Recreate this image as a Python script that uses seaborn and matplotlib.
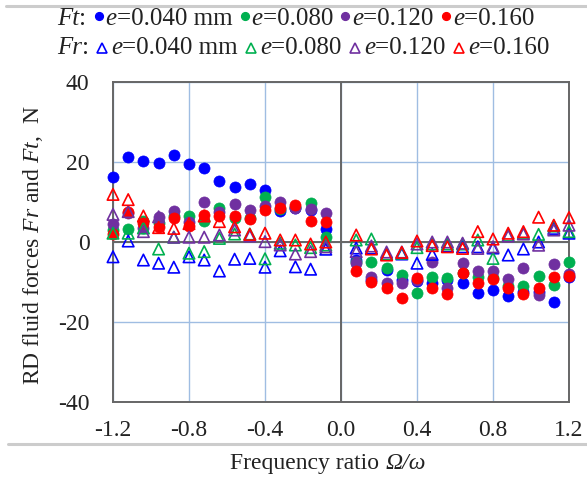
import numpy as np
import pandas as pd
import matplotlib
matplotlib.use("Agg")
import matplotlib.pyplot as plt
import seaborn as sns
from matplotlib.lines import Line2D

# ---------------- data ----------------
ratio = [-1.2, -1.12, -1.04, -0.96, -0.88, -0.8, -0.72, -0.64, -0.56, -0.48, -0.4, -0.32, -0.24, -0.16, -0.08,
         0.08, 0.16, 0.24, 0.32, 0.4, 0.48, 0.56, 0.64, 0.72, 0.8, 0.88, 0.96, 1.04, 1.12, 1.2]

ft_040 = [16.2, 21.2, 20.3, 19.8, 21.8, 19.4, 18.6, 15.25, 13.8, 14.4, 13.0, 7.8, 8.4, 8.0, 3.2,
          -4.4, -9.5, -7.0, -9.5, -9.8, -10.3, -9.5, -10.2, -12.7, -12.0, -13.5, -12.5, -12.5, -15.1, -8.8]
ft_080 = [3.0, 3.2, 5.3, 4.7, 6.5, 6.6, 5.3, 8.4, 6.0, 6.0, 11.3, 8.2, 8.8, 9.8, 1.2,
          -5.0, -5.1, -6.4, -8.25, -12.8, -8.7, -8.9, -7.8, -8.7, -9.0, -11.0, -11.0, -8.4, -10.75, -5.1]
ft_120 = [4.4, 7.3, 3.4, 6.2, 7.8, 5.1, 9.9, 7.4, 9.5, 8.0, 9.0, 9.9, 8.6, 8.2, 7.3,
          -5.3, -8.8, -10.3, -10.3, -9.5, -4.9, -11.4, -5.3, -7.25, -7.2, -9.3, -6.4, -13.25, -5.5, -8.0]
ft_160 = [2.0, 7.6, 4.8, 3.8, 6.1, 4.0, 6.75, 6.5, 6.5, 5.75, 8.0, 8.4, 9.25, 5.25, 5.1,
          -7.2, -10.1, -11.4, -13.9, -9.1, -11.6, -13.1, -7.7, -10.3, -9.3, -11.4, -13.0, -11.4, -8.7, -8.5]

fr_040 = [-3.7, 0.25, -4.5, -5.3, -6.3, -3.7, -4.5, -7.25, -4.3, -4.1, -6.3, -2.2, -6.2, -6.8, -1.8,
          -1.5, -1.5, -3.0, -3.0, -5.3, -3.1, -1.0, -1.2, -1.2, -1.5, -3.25, -1.75, 0.0, 3.4, 2.2]
fr_080 = [2.2, 2.2, 3.5, -1.75, 1.2, -2.8, -2.4, 0.9, 2.0, 2.0, -4.2, -0.3, -0.75, -1.4, -0.75,
          0.5, 0.75, -3.0, -2.8, -1.4, -0.5, -0.5, -0.5, 0.5, -4.1, 1.7, 2.2, 1.9, 4.0, 2.6]
fr_120 = [6.9, 7.6, 2.6, 6.3, 1.2, 1.2, 1.2, 1.75, 3.0, 1.5, 0.1, -0.75, -3.0, -2.4, -1.2,
          -2.4, -1.0, -2.5, -2.5, -0.5, 0.0, 0.0, -0.3, -1.6, -1.2, 1.5, 2.0, -0.8, 3.0, 4.2]
fr_160 = [11.9, 10.6, 6.5, 3.6, 3.4, 4.6, 6.5, 5.1, 3.8, 1.9, 2.2, 0.5, 0.5, -0.5, 0.0,
          1.75, -1.75, -3.25, -2.6, 0.25, -0.9, -1.2, -1.6, 2.6, 0.75, 2.2, 2.6, 6.2, 4.2, 6.1]

ecc_labels = ["0.040 mm", "0.080", "0.120", "0.160"]
colors = ["#0000ff", "#00b050", "#7030a0", "#ff0000"]
xticks = [-1.2, -0.8, -0.4, 0.0, 0.4, 0.8, 1.2]
xticklabels = ["-1.2", "-0.8", "-0.4", "0.0", "0.4", "0.8", "1.2"]
yticks = [-40, -20, 0, 20, 40]

# ---------------- style ----------------
sns.set_style("white")
plt.rcParams["font.family"] = ["Liberation Serif", "DejaVu Serif"]
plt.rcParams["mathtext.fontset"] = "custom"
plt.rcParams["mathtext.rm"] = "Liberation Serif"
plt.rcParams["mathtext.it"] = "Liberation Serif:italic"

W, H = 587, 479
fig = plt.figure(figsize=(W / 100, H / 100), dpi=100)
ax = fig.add_axes([113 / W, 1 - 402 / H, (569 - 113) / W, (402 - 82) / H])

FS = 17
TXT = "#222222"

ft_series = [ft_040, ft_080, ft_120, ft_160]
fr_series = [fr_040, fr_080, fr_120, fr_160]

for vals, c in zip(ft_series, colors):
    sns.scatterplot(x=ratio, y=vals, ax=ax, color=c, marker="o", s=64,
                    edgecolor=c, linewidth=0.5, zorder=3, legend=False, clip_on=False)
for vals, c in zip(fr_series, colors):
    sns.scatterplot(x=ratio, y=vals, ax=ax, marker="^", s=68, facecolor="none",
                    edgecolor=c, linewidth=1.2, zorder=4, legend=False, clip_on=False)

ax.set_xlim(-1.2, 1.2)
ax.set_ylim(-40, 40)
ax.set_xticks(xticks)
ax.set_xticklabels(xticklabels)
ax.set_yticks(yticks)
ax.set_yticklabels([str(v) for v in yticks])
ax.tick_params(axis="both", length=0, labelsize=FS, colors=TXT)
ax.tick_params(axis="x", pad=13)
ax.tick_params(axis="y", pad=17)
ax.grid(True, color="#9fbde2", linewidth=1.0, zorder=0)
ax.axhline(0, color="#666666", linewidth=1.4, zorder=1)
ax.axvline(0, color="#666666", linewidth=1.4, zorder=1)
for sp in ax.spines.values():
    sp.set_color("#666666")
    sp.set_linewidth(1.4)
ax.set_xlabel("")
ax.set_ylabel("")

# y axis title
fig.text(33 / W, 1 - 245 / H, r"RD fluid forces $\mathit{Fr}$ and $\mathit{Ft}$,  N",
         rotation=90, ha="center", va="center", fontsize=FS, color=TXT)

# decorative separator lines
fig.add_artist(Line2D([6 / W, 1.0], [1 - 5.5 / H] * 2, color="#cccccc", linewidth=2.2))
fig.add_artist(Line2D([8 / W, 1.0], [1 - 444 / H] * 2, color="#cccccc", linewidth=2.2))

renderer = fig.canvas.get_renderer()


def text_width(txt, style, fs):
    t = fig.text(0, 0, txt, fontsize=fs, fontstyle=style)
    w = t.get_window_extent(renderer).width
    t.remove()
    return w


# x axis title (pieces so the Greek part is italic)
xl_pieces = [("Frequency ratio ", "normal"), ("Ω/ω", "italic")]
total = sum(text_width(s, st, FS) for s, st in xl_pieces)
x = 328 - total / 2
for s, st in xl_pieces:
    fig.text(x / W, 1 - 469 / H, s, fontsize=FS, fontstyle=st, ha="left",
             va="baseline", color=TXT)
    x += text_width(s, st, FS)

# ---------------- custom legend rows ----------------
LFS = 18


def draw_row(x0, baseline, prefix, filled):
    x = x0
    yb = 1 - baseline / H

    def put(txt, style):
        nonlocal x
        fig.text(x / W, yb, txt, fontsize=LFS, fontstyle=style, ha="left",
                 va="baseline", color=TXT)
        x += text_width(txt, style, LFS)

    put(prefix, "italic")
    put(": ", "normal")
    for lab, c in zip(ecc_labels, colors):
        if filled:
            m = Line2D([(x + 6) / W], [1 - (baseline - 9.5) / H], marker="o", markersize=5.6,
                       color=c, markeredgecolor=c, linestyle="none")
            fig.add_artist(m)
            x += 13
        else:
            m = Line2D([(x + 7) / W], [1 - (baseline - 6.5) / H], marker="^", markersize=7.8,
                       color=c, markerfacecolor="none", markeredgecolor=c,
                       markeredgewidth=1.2, linestyle="none")
            fig.add_artist(m)
            x += 16
        put("e", "italic")
        put("=" + lab + " ", "normal")


draw_row(57, 25, "Ft", True)
draw_row(57, 54, "Fr", False)

fig.savefig("out.png", dpi=100)
